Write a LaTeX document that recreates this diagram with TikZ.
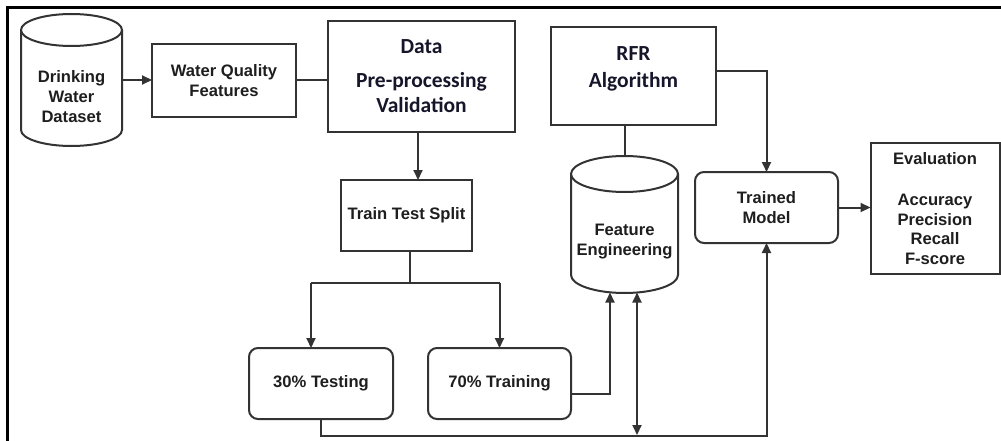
\documentclass[tikz,border=0pt]{standalone}
\usepackage{fontspec}
\setmainfont{Liberation Sans}
\newfontfamily\carlitofont{Carlito}
\usetikzlibrary{arrows.meta}
\definecolor{ln}{HTML}{333333}
\definecolor{tx}{HTML}{1E1E1E}
\definecolor{tc}{HTML}{16162B}
\begin{document}
\begin{tikzpicture}[x=1pt,y=-1pt,
  every node/.style={inner sep=0pt, outer sep=0pt},
  shp/.style={draw=ln, line width=2pt, fill=white},
  box/.style={shp, rectangle, align=center, text=tx, font=\bfseries\fontsize{16.6}{19.7}\selectfont},
  rbox/.style={box, rounded corners=9pt},
  cbox/.style={box, text=tc, font=\carlitofont\bfseries\fontsize{21.5}{25}\selectfont},
  txt/.style={align=center, text=tx, font=\bfseries\fontsize{16.6}{20}\selectfont},
  ctxt/.style={align=center, text=tc, font=\carlitofont\bfseries\fontsize{21.5}{25}\selectfont},
  conn/.style={draw=ln, line width=2pt},
  tip/.tip={Triangle[length=10pt,width=9pt]},
  arr/.style={conn, -tip}
]
\useasboundingbox (0,0) rectangle (1001,441);
\fill[white] (0,0) rectangle (1001,441);
% frame
\draw[line width=3pt, black] (7,445) -- (7,7.5) -- (1005,7.5);

% cylinders
\node[minimum width=101pt, minimum height=132pt] (dw) at (71.5,80) {};
\draw[shp] ([yshift=-16pt]dw.north west) -- ([yshift=16pt]dw.south west)
  arc[start angle=180, end angle=360, x radius=50.5pt, y radius=16pt]
  -- ([yshift=-16pt]dw.north east);
\draw[shp] ([yshift=-16pt]dw.north) ellipse[x radius=50.5pt, y radius=16pt];
\node[txt] (dwt) at (71.5,97) {Drinking\\Water\\Dataset};

\node[minimum width=107pt, minimum height=137pt] (fe) at (624.5,224.5) {};
\draw[shp] ([yshift=-18pt]fe.north west) -- ([yshift=18pt]fe.south west)
  arc[start angle=180, end angle=360, x radius=53.5pt, y radius=18pt]
  -- ([yshift=-18pt]fe.north east);
\draw[shp] ([yshift=-18pt]fe.north) ellipse[x radius=53.5pt, y radius=18pt];
\node[txt] (fet) at (624.5,241.5) {Feature\\Engineering};

% boxes
\node[box, minimum width=144pt, minimum height=73pt] (wqf) at (224,80.5) {Water Quality\\Features};
\node[cbox, minimum width=187pt, minimum height=111pt] (data) at (421.5,76.5) {Data\\[9pt]Pre-processing\\Validation};
\node[shp, rectangle, minimum width=165pt, minimum height=98pt] (rfr) at (633.5,76) {};
\node[ctxt] (rfrt) at (633.5,69) {RFR\\[2pt]Algorithm};
\node[box, minimum width=131pt, minimum height=71pt] (tts) at (406.5,215.5) {Train Test Split};
\node[rbox, minimum width=143pt, minimum height=71pt] (tm) at (766.5,207.5) {Trained\\Model};
\node[box, minimum width=129pt, minimum height=131pt] (ev) at (935,208.5) {Evaluation\\[21.3pt]Accuracy\\Precision\\Recall\\F-score};
\node[rbox, minimum width=144pt, minimum height=71pt] (test) at (321,383.5) {30\% Testing};
\node[rbox, minimum width=143pt, minimum height=71pt] (train) at (499.5,383.5) {70\% Training};

% connectors
\draw[arr] (dw.east) -- (dw.east -| wqf.west);
\draw[conn] (wqf.east) -- (wqf.east -| data.west);
\draw[arr] ([xshift=-3.5pt]data.south) -- ([xshift=-3.5pt]data.south |- tts.north);
\coordinate (sp) at (410,283);
\coordinate (spl) at (311,283);
\coordinate (spr) at (499.5,283);
\draw[conn] (tts.south -| sp) -- (sp);
\draw[conn] (spl) -- (spr);
\draw[arr] (spl) -- (spl |- test.north);
\draw[arr] (spr) -- (spr |- train.north);
\coordinate (feb) at (610,292.5);
\draw[arr] ([yshift=-10.5pt]train.east) -| (feb);
\coordinate (fed) at (637,292.5);
\coordinate (bl) at (637,435);
\draw[conn, tip-tip] (fed) -- (bl);
\coordinate (tmb) at (766.5,436);
\draw[arr] (test.south) |- (tmb) -- (tm.south);
\draw[arr] ([yshift=5pt]rfr.east) -| (tm.north);
\draw[conn] (fe.north |- rfr.south) -- (fe.north);
\draw[arr] (tm.east) -- (tm.east -| ev.west);
\end{tikzpicture}
\end{document}
